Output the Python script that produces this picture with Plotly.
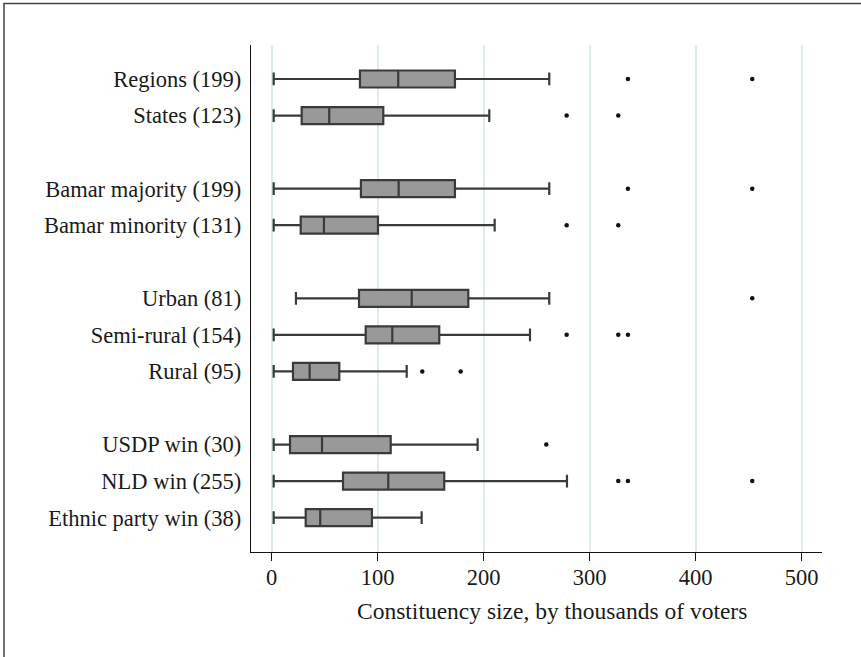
import plotly.graph_objects as go

# ---- data (thousands of voters) ----
labels = ["Regions (199)", "States (123)",
          "Bamar majority (199)", "Bamar minority (131)",
          "Urban (81)", "Semi-rural (154)", "Rural (95)",
          "USDP win (30)", "NLD win (255)", "Ethnic party win (38)"]
slots = [0, 1, 3, 4, 6, 7, 8, 10, 11, 12]  # vertical slot of each group (gaps between groups)
lower_whisker = [1.9, 1.9, 1.9, 1.9, 22.9, 1.9, 1.9, 1.9, 1.9, 1.9]
q1 = [83.3, 28.3, 84.2, 27.4, 82.4, 88.7, 20.1, 17.3, 67.3, 32.1]
median = [119.4, 54.3, 119.8, 49.3, 132.1, 113.8, 35.8, 47.5, 110.0, 45.8]
q3 = [172.9, 105.3, 172.9, 100.3, 185.5, 158.1, 63.8, 112.3, 162.8, 94.6]
upper_whisker = [261.9, 205.3, 261.9, 210.4, 261.9, 243.7, 127.4, 194.3, 278.6, 141.5]
outliers = [[336.1, 453.4], [278.3, 327.0], [336.1, 453.4], [278.3, 327.0],
            [453.4], [278.3, 327.0, 336.1], [142.1, 178.3], [259.1],
            [327.0, 336.1, 453.4], []]
x_ticks = [0, 100, 200, 300, 400, 500]
x_title = "Constituency size, by thousands of voters"

FONT = "Liberation Serif"
FS = 22.5

fig = go.Figure()
fig.add_trace(go.Box(
    orientation="h",
    y=slots,
    q1=q1, median=median, q3=q3,
    lowerfence=lower_whisker, upperfence=upper_whisker,
    boxpoints=False,
    fillcolor="#999999",
    line=dict(color="#3a3a3a", width=2.2),
    width=0.465,
    whiskerwidth=0.75,
    showlegend=False,
    hoverinfo="skip",
))

ox, oy = [], []
for s, pts in zip(slots, outliers):
    for v in pts:
        ox.append(v)
        oy.append(s)
fig.add_trace(go.Scatter(
    x=ox, y=oy, mode="markers",
    marker=dict(color="#111111", size=4.5),
    showlegend=False, hoverinfo="skip",
))

fig.update_layout(
    width=861, height=657,
    margin=dict(l=251, r=39, t=45, b=105),
    plot_bgcolor="white", paper_bgcolor="white",
    font=dict(family=FONT, size=FS, color="#1a1a1a"),
    shapes=[dict(type="rect", xref="paper", yref="paper",
                 x0=(4 - 251) / 571, x1=(900 - 251) / 571,
                 y0=(552.3 - 700) / 506.8, y1=(552.3 - 4) / 506.8,
                 line=dict(color="#444444", width=1.5), layer="below")],
    annotations=[dict(text=x_title, xref="paper", yref="paper",
                      x=(551.5 - 251) / 571, y=(552.3 - 611.5) / 506.8,
                      xanchor="center", yanchor="middle", showarrow=False,
                      font=dict(size=23.5))],
)
fig.update_xaxes(
    range=[-19.5, 519.2],
    tickvals=x_ticks,
    ticks="outside", ticklen=8, tickcolor="#111111", tickwidth=1.2,
    showline=True, linecolor="#111111", linewidth=1.3,
    showgrid=True, gridcolor="#dcecec", gridwidth=1.5,
    zeroline=False,
    ticklabelstandoff=-3,
    tickfont=dict(size=FS),
)
fig.update_yaxes(
    range=[12.94, -0.93],
    tickvals=slots, ticktext=labels,
    ticks="", showline=True, linecolor="#111111", linewidth=1.3,
    showgrid=False, zeroline=False,
    ticklabelstandoff=4,
    tickfont=dict(size=FS),
)

fig.write_html("out.html", config={"displayModeBar": False},
               post_script="document.body.style.margin='0px';")
